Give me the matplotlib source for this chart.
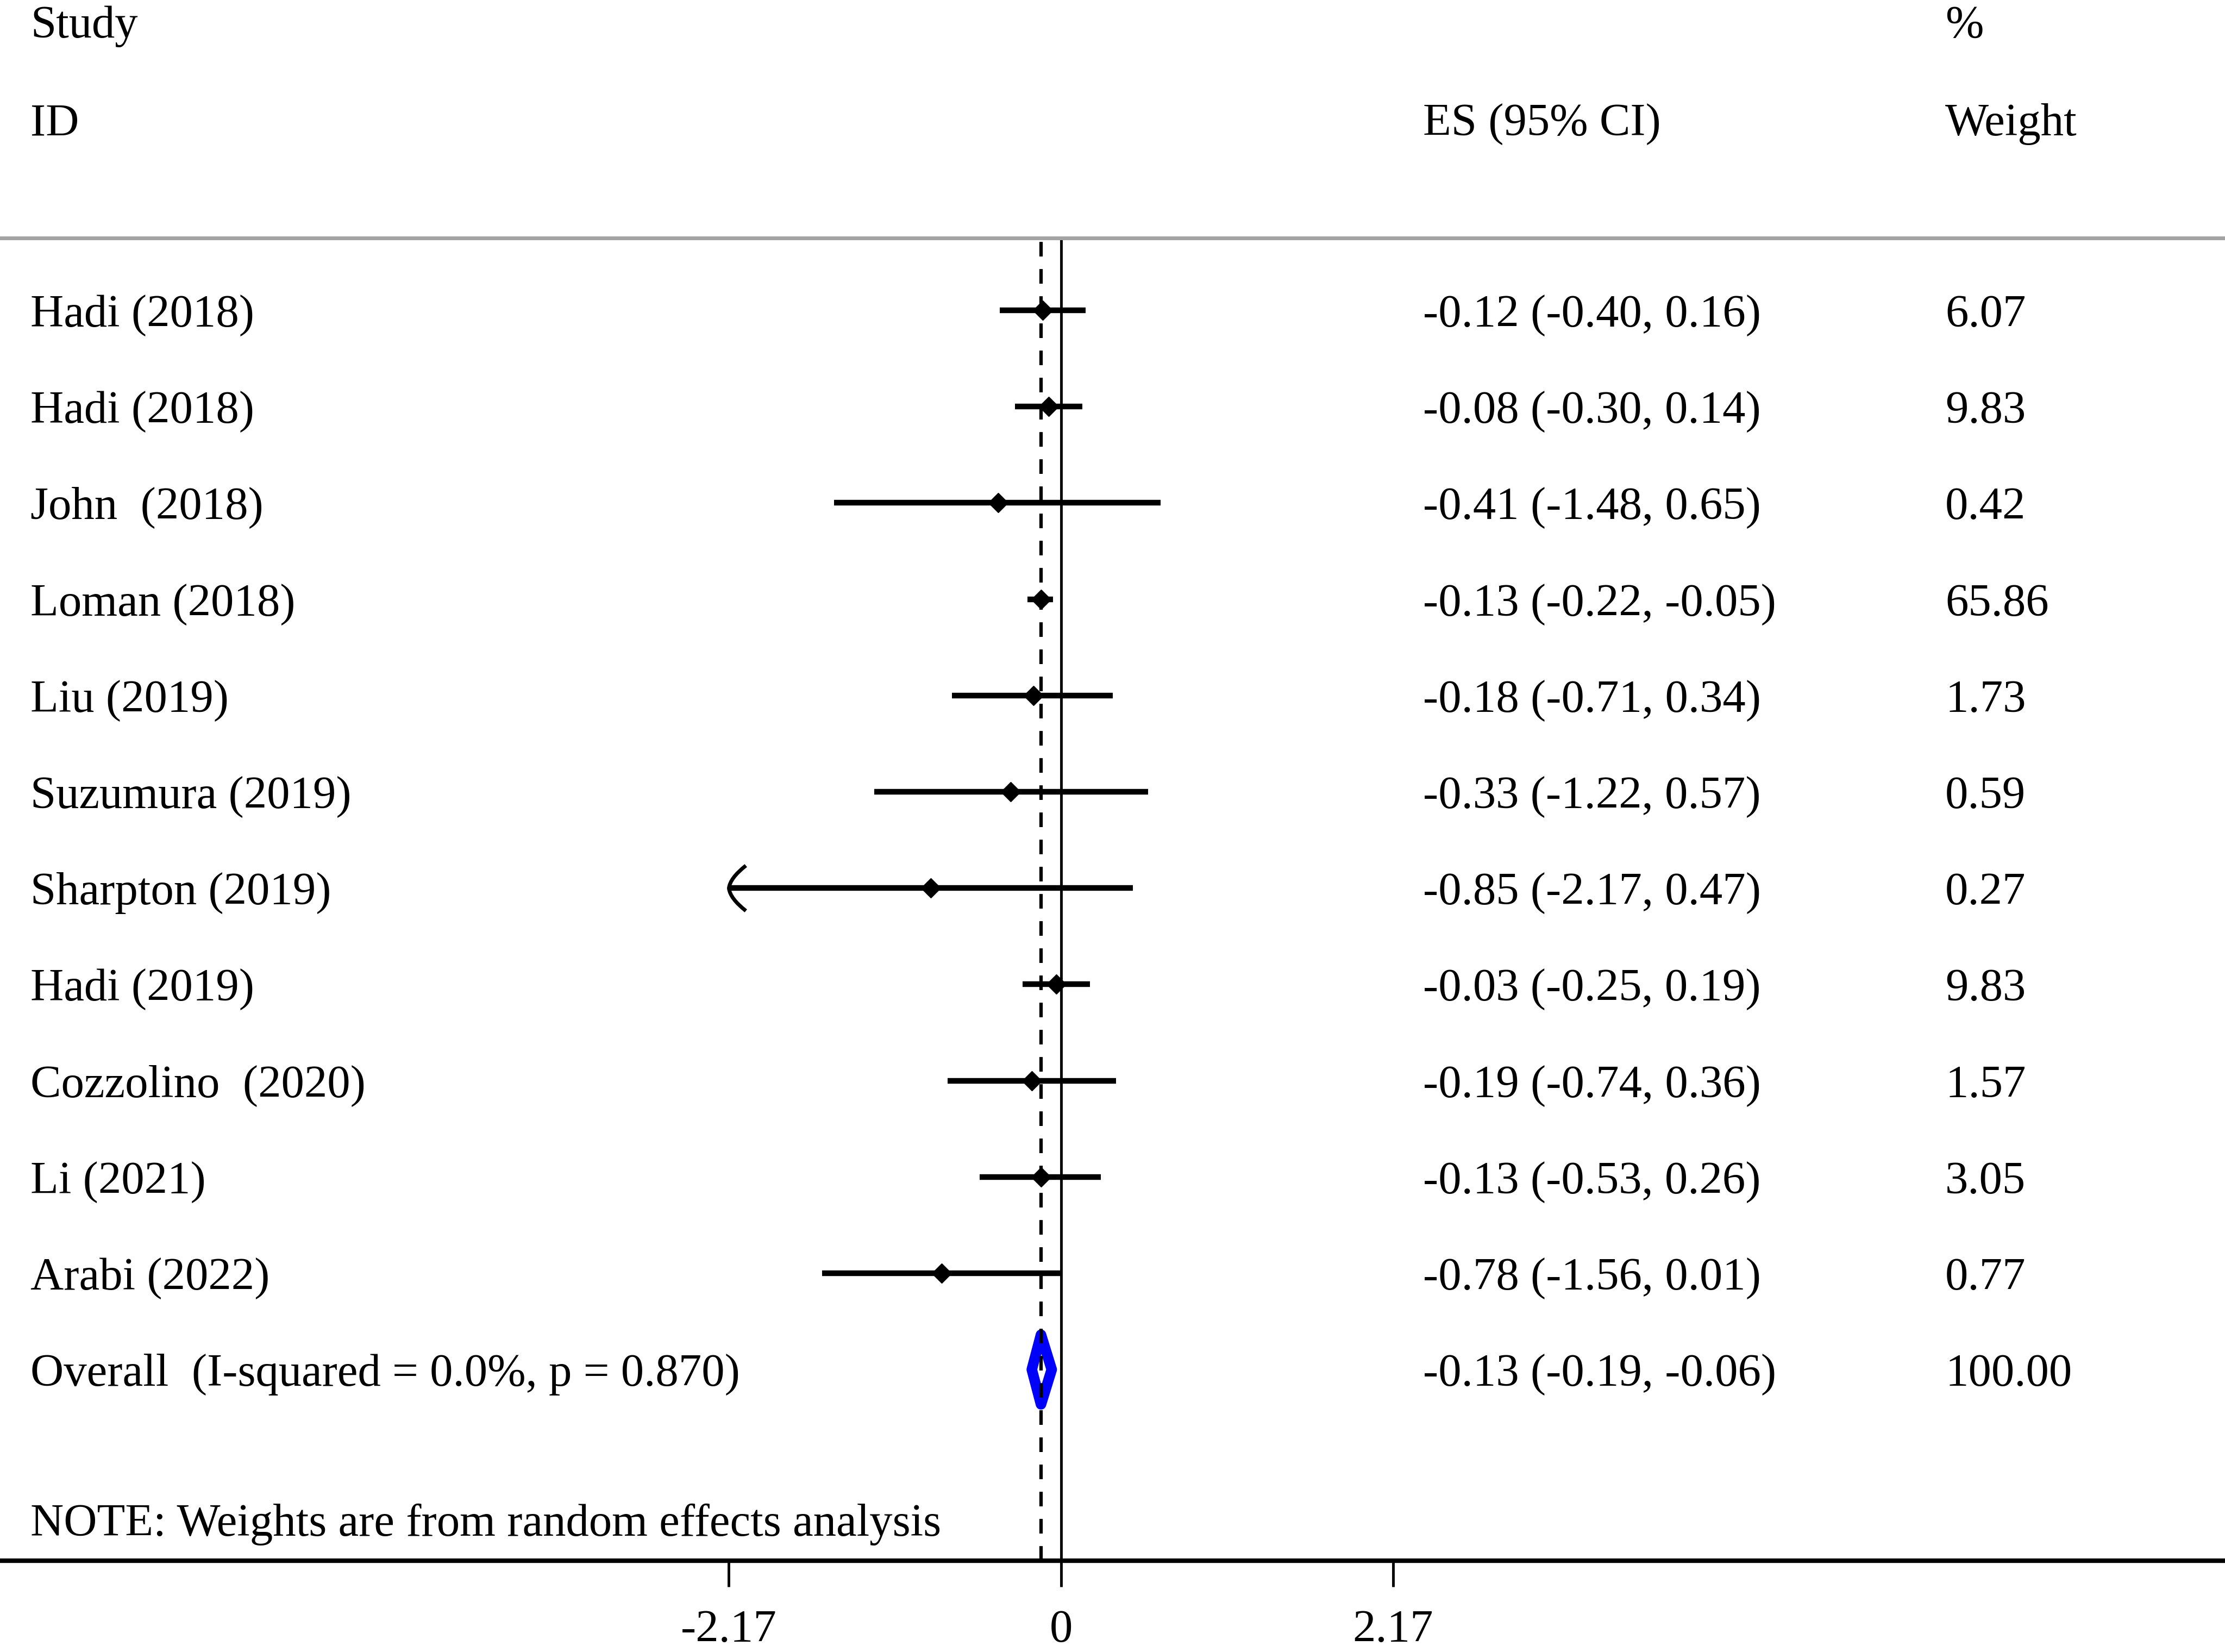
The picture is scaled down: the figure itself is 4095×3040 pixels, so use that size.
import numpy as np
import matplotlib.pyplot as plt
from matplotlib.path import Path
from matplotlib.patches import Polygon

# study rows, top to bottom
studies = ["Hadi (2018)", "Hadi (2018)", "John  (2018)", "Loman (2018)", "Liu (2019)",
           "Suzumura (2019)", "Sharpton (2019)", "Hadi (2019)", "Cozzolino  (2020)",
           "Li (2021)", "Arabi (2022)"]
es = [-0.12, -0.08, -0.41, -0.13, -0.18, -0.33, -0.85, -0.03, -0.19, -0.13, -0.78]
ci_low = [-0.40, -0.30, -1.48, -0.22, -0.71, -1.22, -2.17, -0.25, -0.74, -0.53, -1.56]
ci_high = [0.16, 0.14, 0.65, -0.05, 0.34, 0.57, 0.47, 0.19, 0.36, 0.26, 0.01]
weights = [6.07, 9.83, 0.42, 65.86, 1.73, 0.59, 0.27, 9.83, 1.57, 3.05, 0.77]

overall_label = "Overall  (I-squared = 0.0%, p = 0.870)"
overall_es, overall_low, overall_high, overall_weight = -0.13, -0.19, -0.06, 100.00

xticks = [-2.17, 0, 2.17]
note = "NOTE: Weights are from random effects analysis"

plt.rcParams['font.family'] = ['Liberation Serif', 'DejaVu Serif']
plt.rcParams['font.size'] = 61

W, H = 4095, 3040
fig = plt.figure(figsize=(W / 100, H / 100), dpi=100)

# plot box runs from the grey rule to the x axis line, full width
top_px, axis_px = 438, 2872
ax = fig.add_axes([0, 1 - axis_px / H, 1, (axis_px - top_px) / H])
px_per_unit, zero_px = 281.8, 1952.5
ax.set_xlim(-zero_px / px_per_unit, (W - zero_px) / px_per_unit)
ax.set_ylim(axis_px, top_px)

row0, step = 571, 177.2
n = len(studies)
y_rows = row0 + step * np.arange(n)
y_overall = row0 + step * n
y_note = 2796
base = 30  # baseline offset below row centre

# open arrow head for clipped CIs
arrow = Path([(0.75, 1.0), (0.05, 0.45), (0.0, 0.0), (0.05, -0.45), (0.75, -1.0)],
             [Path.MOVETO, Path.CURVE3, Path.CURVE3, Path.CURVE3, Path.CURVE3])

for y, e, lo, hi in zip(y_rows, es, ci_low, ci_high):
    ax.plot([lo, hi], [y, y], color='black', lw=7.5, solid_capstyle='butt', zorder=3)
    ax.plot(e, y, marker='D', ms=18, color='black', zorder=4)
    if lo <= xticks[0]:
        ax.plot(lo, y, marker=arrow, ms=60, mfc='none', mec='black', mew=5, zorder=4)

dia = Polygon([(overall_low, y_overall), (overall_es, y_overall - 64),
               (overall_high, y_overall), (overall_es, y_overall + 64)],
              closed=True, fill=False, ec='blue', lw=14, joinstyle='round', zorder=2)
ax.add_patch(dia)

ax.axvline(0, color='black', lw=3.5, zorder=2)
ax.axvline(overall_es, color='black', lw=4.5, linestyle=(0, (4.3, 3.7)), zorder=5)

for s in ['left', 'right']:
    ax.spines[s].set_visible(False)
ax.spines['top'].set_color('#a3a3a3')
ax.spines['top'].set_linewidth(5)
ax.spines['bottom'].set_linewidth(6)
ax.set_yticks([])
ax.set_xticks(xticks, labels=[f"{t:g}" for t in xticks])
ax.tick_params(axis='x', length=34.5, width=3.5, pad=30, direction='out')

tr = ax.get_yaxis_transform()
x_lab, x_es, x_wt = 56 / W, 2619 / W, 3580 / W

ax.text(x_lab, 69, "Study", transform=tr, va='baseline')
ax.text(x_wt, 69, "%", transform=tr, va='baseline')
ax.text(x_lab, 249, "ID", transform=tr, va='baseline')
ax.text(x_es, 249, "ES (95% CI)", transform=tr, va='baseline')
ax.text(x_wt, 249, "Weight", transform=tr, va='baseline')

for y, name, e, lo, hi, w in zip(y_rows, studies, es, ci_low, ci_high, weights):
    ax.text(x_lab, y + base, name, transform=tr, va='baseline')
    ax.text(x_es, y + base, f"{e:.2f} ({lo:.2f}, {hi:.2f})", transform=tr, va='baseline')
    ax.text(x_wt, y + base, f"{w:.2f}", transform=tr, va='baseline')

ax.text(x_lab, y_overall + base, overall_label, transform=tr, va='baseline')
ax.text(x_es, y_overall + base,
        f"{overall_es:.2f} ({overall_low:.2f}, {overall_high:.2f})", transform=tr, va='baseline')
ax.text(x_wt, y_overall + base, f"{overall_weight:.2f}", transform=tr, va='baseline')

ax.text(x_lab, y_note + base, note, transform=tr, va='baseline')

fig.savefig('out.png', dpi=100)
